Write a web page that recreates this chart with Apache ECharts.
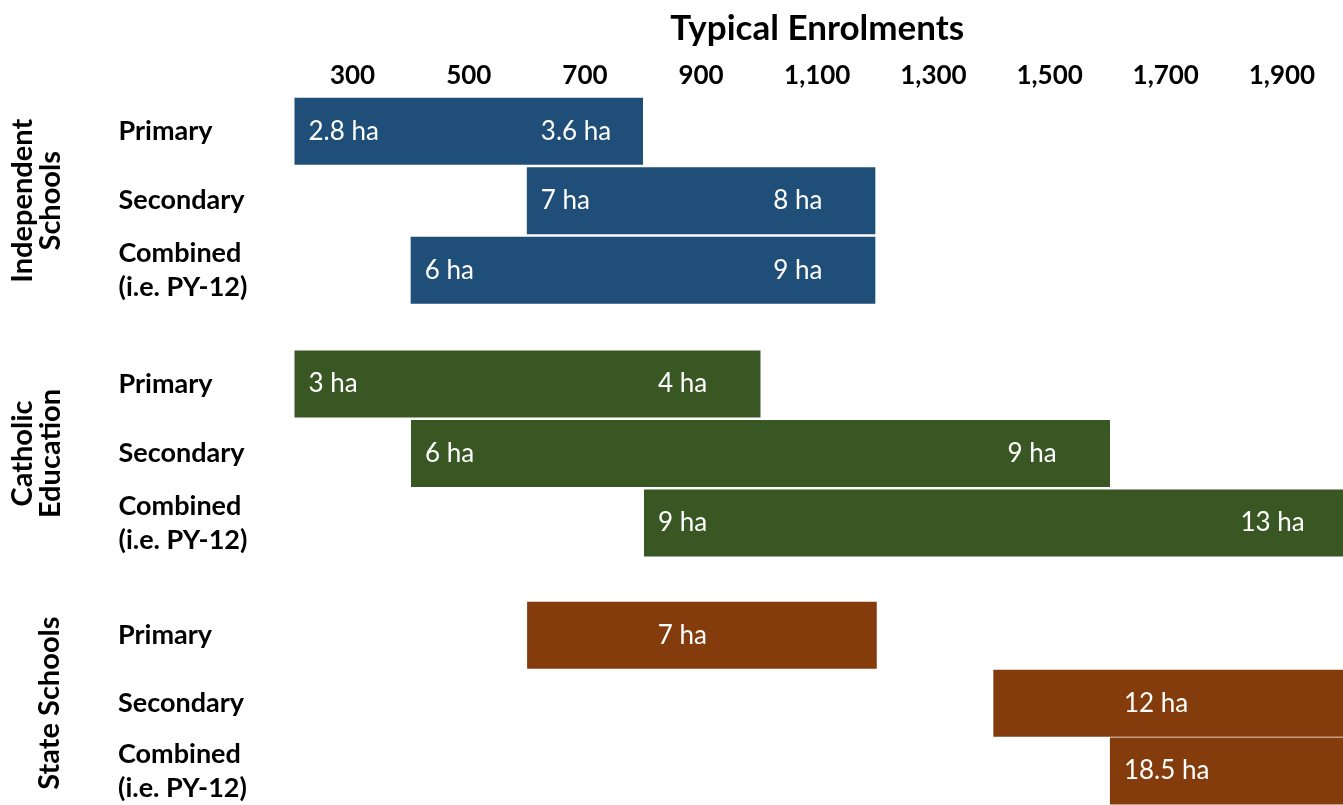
<!DOCTYPE html>
<html>
<head>
<meta charset="utf-8">
<title>Typical Enrolments</title>
<script src="https://cdn.jsdelivr.net/npm/echarts@6/dist/echarts.min.js"></script>
<style>
  html, body { margin: 0; padding: 0; background: #fff; }
  #chart { width: 1343px; height: 805px; }
</style>
</head>
<body>
<div id="chart"></div>
<script>
// rows in every group
var categories = ['Primary', 'Secondary', 'Combined\n(i.e. PY-12)'];
var groupNames = ['Independent\nSchools', 'Catholic\nEducation', 'State Schools'];
var groupColors = ['#1F4E79', '#385723', '#843C0C'];

// enrolment ranges: start, where the 2nd label begins, end
var indepStart = [200, 600, 400];
var indepSplit = [600, 1000, 1000];
var indepEnd = [800, 1200, 1200];
var indepLabelA = ['2.8 ha', '7 ha', '6 ha'];
var indepLabelB = ['3.6 ha', '8 ha', '9 ha'];

var cathStart = [200, 400, 800];
var cathSplit = [800, 1400, 1800];
var cathEnd = [1000, 1600, 2000];
var cathLabelA = ['3 ha', '6 ha', '9 ha'];
var cathLabelB = ['4 ha', '9 ha', '13 ha'];

var stateStart = [600, 1400, 1600];
var stateSplit = [800, 1600, 1600];
var stateEnd = [1200, 2000, 2000];
var stateLabelA = ['', '', ''];
var stateLabelB = ['7 ha', '12 ha', '18.5 ha'];

var groups = [
  [indepStart, indepSplit, indepEnd, indepLabelA, indepLabelB],
  [cathStart, cathSplit, cathEnd, cathLabelA, cathLabelB],
  [stateStart, stateSplit, stateEnd, stateLabelA, stateLabelB]
];

var FONT = 'Lato, "Open Sans", sans-serif';
var rowH = 69.5;
var tops = [96.5, 349.25, 601.25];

var chart = echarts.init(document.getElementById('chart'));

var grids = [], xAxes = [], yAxes = [], series = [];

groups.forEach(function (g, i) {
  grids.push({ left: 294, right: 0, top: tops[i], height: rowH * 3 });

  xAxes.push({
    gridIndex: i,
    type: 'value',
    position: 'top',
    min: 200,
    max: 2000,
    interval: 100,
    show: i === 0,
    name: i === 0 ? 'Typical Enrolments' : '',
    nameLocation: 'middle',
    nameGap: 50,
    nameTextStyle: { fontFamily: FONT, fontWeight: 'bold', fontSize: 35, color: '#000' },
    axisLine: { show: false },
    axisTick: { show: false },
    splitLine: { show: false },
    axisLabel: {
      margin: 8,
      fontFamily: FONT, fontWeight: 'bold', fontSize: 26, color: '#000',
      formatter: function (v) {
        return (v - 300) % 200 === 0 ? v.toLocaleString('en-US') : '';
      }
    }
  });

  yAxes.push({
    gridIndex: i,
    type: 'category',
    inverse: true,
    data: categories,
    name: groupNames[i],
    nameLocation: 'middle',
    nameRotate: 90,
    nameGap: 230,
    nameTextStyle: { fontFamily: FONT, fontWeight: 'bold', fontSize: 29, color: '#000', lineHeight: 28 },
    axisLine: { show: false },
    axisTick: { show: false },
    axisLabel: {
      align: 'left',
      margin: 176,
      fontFamily: FONT, fontWeight: 'bold', fontSize: 27, color: '#000', lineHeight: 34
    }
  });

  var start = g[0], split = g[1], end = g[2], labA = g[3], labB = g[4];
  var segLabel = function (arr) {
    return {
      show: true,
      position: 'insideLeft',
      distance: 14,
      color: '#fff',
      fontFamily: FONT,
      fontSize: 26,
      formatter: function (p) { return arr[p.dataIndex]; }
    };
  };

  // coloured span: transparent offset + full range
  series.push({
    type: 'bar', xAxisIndex: i, yAxisIndex: i, stack: 'span' + i,
    barWidth: 67, barGap: '-100%', silent: true,
    itemStyle: { color: 'transparent' },
    data: start
  });
  series.push({
    type: 'bar', xAxisIndex: i, yAxisIndex: i, stack: 'span' + i,
    barWidth: 67, barGap: '-100%',
    itemStyle: { color: groupColors[i] },
    data: end.map(function (v, k) { return v - start[k]; })
  });

  // overlaid transparent pieces that only carry the labels
  series.push({
    type: 'bar', xAxisIndex: i, yAxisIndex: i, stack: 'lab' + i,
    barWidth: 67, barGap: '-100%', silent: true,
    itemStyle: { color: 'transparent' },
    data: start
  });
  series.push({
    type: 'bar', xAxisIndex: i, yAxisIndex: i, stack: 'lab' + i,
    barWidth: 67, barGap: '-100%', silent: true,
    itemStyle: { color: 'transparent' },
    label: segLabel(labA),
    data: split.map(function (v, k) { return v - start[k]; })
  });
  series.push({
    type: 'bar', xAxisIndex: i, yAxisIndex: i, stack: 'lab' + i,
    barWidth: 67, barGap: '-100%', silent: true,
    itemStyle: { color: 'transparent' },
    label: segLabel(labB),
    data: end.map(function (v, k) { return v - split[k]; })
  });
});

chart.setOption({
  animation: false,
  grid: grids,
  xAxis: xAxes,
  yAxis: yAxes,
  series: series
});
</script>
</body>
</html>
